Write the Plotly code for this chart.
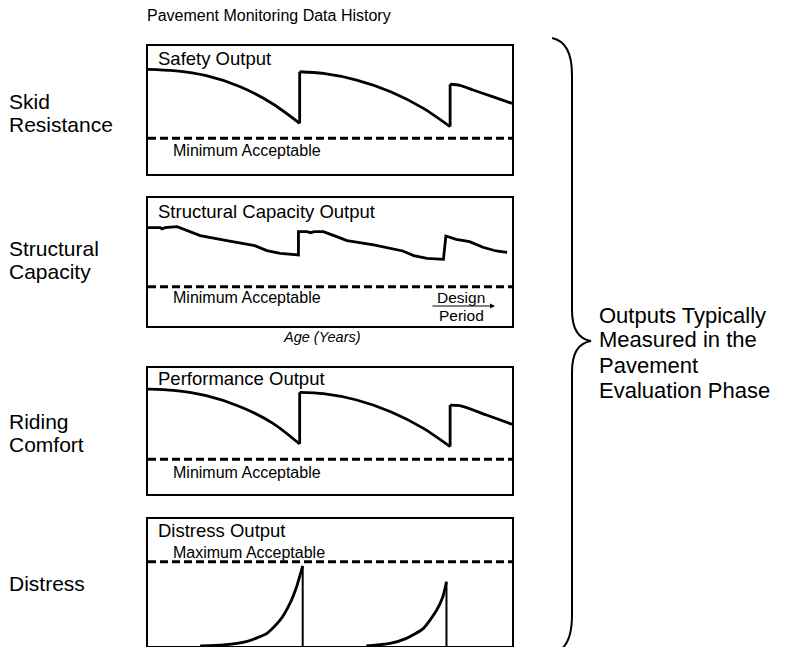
import plotly.graph_objects as go

# ---- data (age in years, output on a 0-100 relative scale) ----
age_range = [0, 30]

safety_age = [[0, 2.1, 4.8, 7.6, 10.3, 12.5], [12.5, 14.45, 17.2, 20.0, 22.7, 24.9], [24.9, 25.7, 26.8, 28.4, 30]]
safety_val = [[81.8, 80.7, 76.8, 68.2, 54.7, 39.6], [79.9, 78.6, 73.4, 64.3, 51.3, 37.0], [70.1, 69.3, 65.6, 60.4, 55.2]]
safety_min = 27.9

struct_age = [0, 1.0, 1.15, 1.4, 2.4, 3.2, 4.3, 6.5, 7.6, 8.8, 9.8, 10.9, 12.4,
              12.4, 13.1, 13.4, 13.7, 14.45, 15.55, 16.4, 18.6, 21.0, 21.9, 23.0, 24.35,
              24.55, 25.4, 26.5, 27.6, 28.7, 29.6]
struct_val = [76.8, 76.8, 75.8, 76.8, 77.6, 74.9, 70.6, 66.7, 64.6, 62.8, 58.9, 56.8, 55.5,
              73.7, 73.7, 72.9, 73.7, 73.7, 69.8, 66.7, 63.3, 58.6, 55.0, 52.9, 52.1,
              70.3, 67.7, 65.9, 61.5, 58.6, 57.5]
struct_min = 30.7

perf_age = [[0, 2.1, 4.8, 7.6, 10.3, 12.5], [12.5, 14.45, 17.2, 20.0, 22.7, 24.9], [24.9, 25.7, 27.9, 30]]
perf_val = [[83.3, 82.3, 78.0, 69.3, 56.1, 39.7], [80.7, 79.6, 74.6, 65.3, 52.1, 37.6], [70.6, 70.1, 62.7, 55.3]]
perf_min = 27.5

distress_age = [[4.3, 6.2, 8.1, 9.8, 10.9, 11.7, 12.25, 12.75], [18.0, 19.95, 21.3, 22.7, 23.8, 24.3, 24.6]]
distress_val = [[0, 0.8, 3.4, 10.0, 20.5, 33.6, 46.7, 63.0], [0, 2.1, 6.0, 13.9, 28.3, 38.8, 50.6]]
distress_max = 66.4

panel_titles = ["Safety Output", "Structural Capacity Output", "Performance Output", "Distress Output"]
limit_labels = ["Minimum Acceptable", "Minimum Acceptable", "Minimum Acceptable", "Maximum Acceptable"]
row_labels = [["Skid", "Resistance"], ["Structural", "Capacity"], ["Riding", "Comfort"], ["Distress"]]
phase_label = ["Outputs Typically", "Measured in the", "Pavement", "Evaluation Phase"]

# ---- layout geometry (page pixels; the page body has an 8px margin) ----
PAGE_W, PAGE_H, OFF = 790, 655, 8
W, H = PAGE_W - 2 * OFF, PAGE_H - 2 * OFF
FONT = "Liberation Sans, Arial, Helvetica, sans-serif"
BOX_L, BOX_R = 148, 512
BOX_TOP = [46, 198, 368, 519]
BOX_BOT = [174, 326, 494, 646]


def px(x, y):
    return (x - OFF) / W, 1 - (y - OFF) / H


fig = go.Figure()
line = dict(color="black", width=2.8)
dash = dict(color="black", width=3, dash="8px,4px")


def ax(i):
    return ("x" if i == 0 else f"x{i+1}"), ("y" if i == 0 else f"y{i+1}")


def seg_curve(i, ages, vals):
    xa, ya = ax(i)
    for k in range(len(ages) - 1):
        fig.add_trace(go.Scatter(x=[ages[k][-1], ages[k + 1][0]], y=[vals[k][-1], vals[k + 1][0]],
                                 mode="lines", line=line, xaxis=xa, yaxis=ya))
    for a, v in zip(ages, vals):
        fig.add_trace(go.Scatter(x=a, y=v, mode="lines", line=dict(line, shape="spline", smoothing=0.8),
                                 xaxis=xa, yaxis=ya))


def limit(i, val):
    xa, ya = ax(i)
    fig.add_trace(go.Scatter(x=age_range, y=[val, val], mode="lines", line=dash, xaxis=xa, yaxis=ya))


seg_curve(0, safety_age, safety_val)
limit(0, safety_min)

fig.add_trace(go.Scatter(x=struct_age, y=struct_val, mode="lines", line=line, xaxis="x2", yaxis="y2"))
limit(1, struct_min)

seg_curve(2, perf_age, perf_val)
limit(2, perf_min)

for a, v in zip(distress_age, distress_val):
    fig.add_trace(go.Scatter(x=a, y=v, mode="lines", line=dict(line, shape="spline", smoothing=0.6),
                             xaxis="x4", yaxis="y4"))
    fig.add_trace(go.Scatter(x=[a[-1], a[-1]], y=[v[-1], 0], mode="lines",
                             line=dict(color="black", width=2), xaxis="x4", yaxis="y4"))
limit(3, distress_max)

axis_style = dict(showline=True, mirror=True, linecolor="black", linewidth=1.8, showgrid=False,
                  zeroline=False, showticklabels=False, ticks="", fixedrange=True)
lay = {}
for i in range(4):
    sx = "" if i == 0 else str(i + 1)
    x0, y0 = px(BOX_L, BOX_BOT[i])
    x1, y1 = px(BOX_R, BOX_TOP[i])
    lay[f"xaxis{sx}"] = dict(axis_style, domain=[x0, x1], range=age_range, anchor=f"y{sx}")
    lay[f"yaxis{sx}"] = dict(axis_style, domain=[y0, y1], range=[0, 100], anchor=f"x{sx}")

ann = []


def text(x, y, s, size, xanchor="left", italic=False):
    xp, yp = px(x, y)
    ann.append(dict(x=xp, y=yp, xref="paper", yref="paper", text=s, showarrow=False, xanchor=xanchor,
                    yanchor="middle", borderpad=0,
                    font=dict(family=FONT, size=size, color="black", style="italic" if italic else "normal")))


text(146, 15, "Pavement Monitoring Data History", 16)

row_y = [101, 248, 421, 583]
for lines, y in zip(row_labels, row_y):
    for k, s in enumerate(lines):
        text(8, y + 23.3 * k, s, 21)

title_y = [58, 212, 378, 530]
for s, y in zip(panel_titles, title_y):
    text(157, y, s, 18.5)

lim_y = [150, 297, 472, 552]
for s, y in zip(limit_labels, lim_y):
    text(172, y, s, 16)

text(461, 297, "Design", 15.5, xanchor="center")
text(461, 315, "Period", 15.5, xanchor="center")
text(322, 337, "Age (Years)", 14.5, xanchor="center", italic=True)

for k, s in enumerate(phase_label):
    text(598, 315 + 25 * k, s, 22)

# design period arrow
x1, y1 = px(495, 306)
ann.append(dict(x=x1, y=y1, xref="paper", yref="paper", ax=-64, ay=0, text="", showarrow=True,
                arrowhead=2, arrowsize=1, arrowwidth=1, arrowcolor="black"))

# curly brace
pts = [(552, 38), (572, 42), (572, 75), (572, 310), (572, 338), (591, 341), (572, 344), (572, 372),
       (572, 615), (572, 650), (552, 653)]
pp = [px(*p) for p in pts]
path = (f"M {pp[0][0]},{pp[0][1]} Q {pp[1][0]},{pp[1][1]} {pp[2][0]},{pp[2][1]} "
        f"L {pp[3][0]},{pp[3][1]} Q {pp[4][0]},{pp[4][1]} {pp[5][0]},{pp[5][1]} "
        f"Q {pp[6][0]},{pp[6][1]} {pp[7][0]},{pp[7][1]} L {pp[8][0]},{pp[8][1]} "
        f"Q {pp[9][0]},{pp[9][1]} {pp[10][0]},{pp[10][1]}")

fig.update_layout(
    width=W, height=H, margin=dict(l=0, r=0, t=0, b=0), showlegend=False,
    paper_bgcolor="white", plot_bgcolor="white", annotations=ann,
    shapes=[dict(type="path", path=path, xref="paper", yref="paper", line=dict(color="black", width=2))],
    **lay,
)
fig.write_html("out.html", config={"displayModeBar": False})
